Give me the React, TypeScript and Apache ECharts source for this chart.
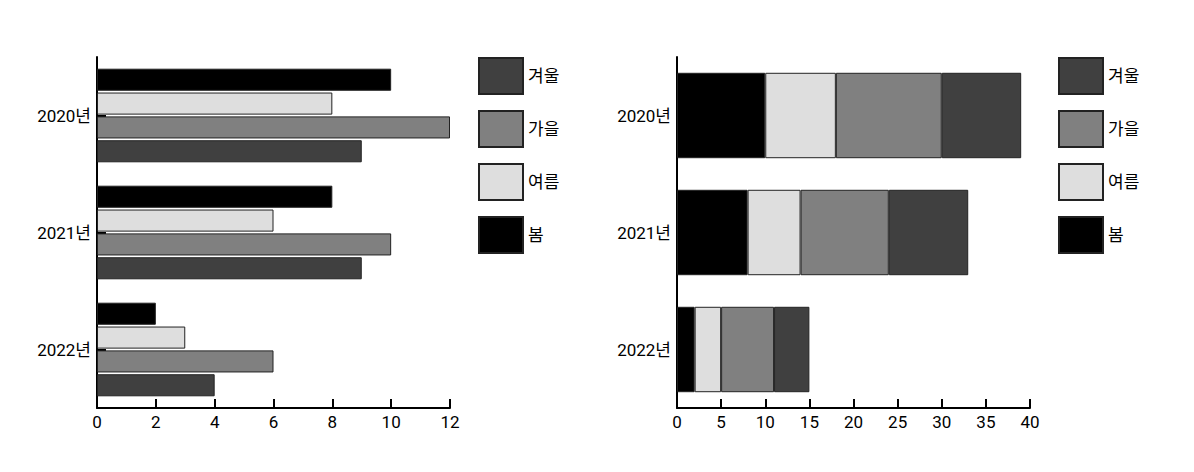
import React, { useEffect, useRef } from "react";
import * as echarts from "echarts";

const categories = ["2020년", "2021년", "2022년"];
const seasons = ["봄", "여름", "가을", "겨울"];
const spring = [10, 8, 2];
const summer = [8, 6, 3];
const autumn = [12, 10, 6];
const winter = [9, 9, 4];
const colors = ["#000000", "#dedede", "#808080", "#404040"];
const legendOrder = ["겨울", "가을", "여름", "봄"];
const leftTicks = { min: 0, max: 12, interval: 2 };
const rightTicks = { min: 0, max: 40, interval: 5 };

const FONT = "Roboto, 'Noto Sans CJK KR', sans-serif";

export default function App() {
  const ref = useRef<HTMLDivElement>(null);
  useEffect(() => {
    document.body.style.margin = "0";
    const chart = echarts.init(ref.current!, null, { renderer: "svg" });
    const values = [spring, summer, autumn, winter];
    const axisCommon = {
      axisLine: { show: true, lineStyle: { color: "#000", width: 2 } },
      axisTick: { show: true, inside: true, length: 9, lineStyle: { color: "#000", width: 2 } },
      splitLine: { show: false },
      axisLabel: { color: "#000", fontSize: 17, fontFamily: FONT },
    };
    const series: any[] = [];
    seasons.forEach((s, i) => {
      series.push({
        name: s,
        type: "bar",
        xAxisIndex: 0,
        yAxisIndex: 0,
        data: values[i],
        barCategoryGap: "20%",
        barGap: "8%",
        itemStyle: { color: colors[i], borderColor: "#222", borderWidth: 1 },
      });
    });
    seasons.forEach((s, i) => {
      series.push({
        name: s,
        type: "bar",
        xAxisIndex: 1,
        yAxisIndex: 1,
        stack: "total",
        data: values[i],
        barCategoryGap: "27%",
        itemStyle: { color: colors[i], borderColor: "#222", borderWidth: 1 },
      });
    });
    const legendCommon = {
      orient: "vertical",
      top: 57,
      itemWidth: 44,
      itemHeight: 36,
      itemGap: 15,
      padding: 0,
      icon: "rect",
      data: legendOrder,
      textStyle: { color: "#000", fontSize: 17, fontFamily: FONT },
    };
    chart.setOption({
      animation: false,
      textStyle: { fontFamily: FONT },
      grid: [
        { left: 97, top: 57, width: 353, height: 351 },
        { left: 677, top: 57, width: 353, height: 351 },
      ],
      legend: [
        { ...legendCommon, left: 478 },
        { ...legendCommon, left: 1058 },
      ],
      xAxis: [
        { type: "value", gridIndex: 0, ...leftTicks, ...axisCommon, axisLabel: { ...axisCommon.axisLabel, margin: 5 } },
        { type: "value", gridIndex: 1, ...rightTicks, ...axisCommon, axisLabel: { ...axisCommon.axisLabel, margin: 5 } },
      ],
      yAxis: [
        { type: "category", gridIndex: 0, data: categories, inverse: true, ...axisCommon, axisTick: { ...axisCommon.axisTick, alignWithLabel: true }, axisLabel: { ...axisCommon.axisLabel, margin: 6 } },
        { type: "category", gridIndex: 1, data: categories, inverse: true, ...axisCommon, axisTick: { ...axisCommon.axisTick, alignWithLabel: true }, axisLabel: { ...axisCommon.axisLabel, margin: 6 } },
      ],
      series,
    });
    return () => chart.dispose();
  }, []);
  return <div ref={ref} style={{ width: 1194, height: 472 }} />;
}
